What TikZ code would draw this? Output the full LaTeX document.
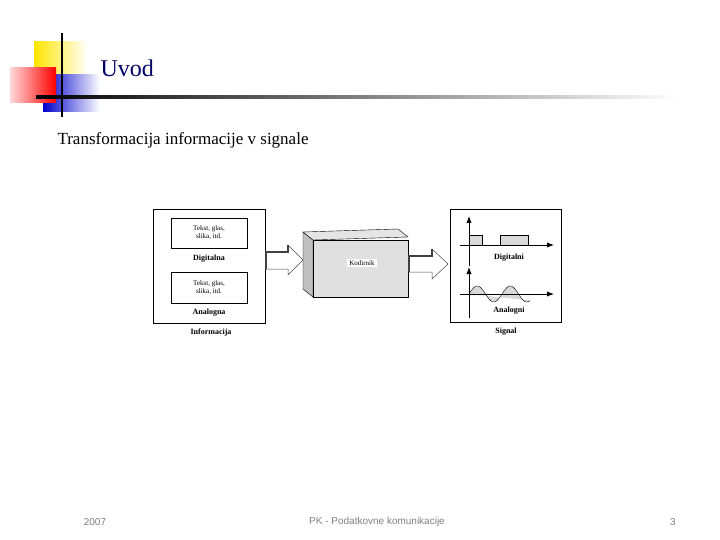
\documentclass[tikz,border=0pt]{standalone}
\usepackage{fontspec}
\setmainfont{Liberation Serif}
\setsansfont{Liberation Sans}
\usetikzlibrary{arrows.meta}
\begin{document}
\begin{tikzpicture}[x=1pt,y=-1pt,
  lbl/.style={font=\fontsize{8}{9}\selectfont\bfseries},
  small/.style={font=\fontsize{7}{8}\selectfont, align=center},
  inbox/.style={draw, line width=0.8pt},
  foot/.style={font=\sffamily\fontsize{10}{12}\selectfont, text=gray}]
\useasboundingbox (0,0) rectangle (720,540);
% logo
\shade[left color=yellow!80!orange, right color=white] (34,42) rectangle (88,88);
\shade[left color=blue!80!black, right color=white] (43,75) rectangle (100,112);
\shade[left color=red!15, right color=red] (10,68) rectangle (56,103);
\draw[line width=1.5pt] (62,33) -- (62,117);
\shade[left color=black, right color=white] (36,96) rectangle (680,98.5);
\node[anchor=west, text=blue!40!black, font=\fontsize{24}{28}\selectfont] (title) at (97,68) {Uvod};
\node[anchor=west, font=\fontsize{17}{20}\selectfont] (sub) at (54,140) {Transformacija informacije v signale};
% info box
\draw[line width=0.8pt] (153,209) rectangle (265,323);
\node[inbox, minimum width=76pt, minimum height=30pt, small] (b1) at (209,233) {Tekst, glas,\\ slika, itd.};
\node[lbl] (dig) at (209,259) {Digitalna};
\node[inbox, minimum width=76pt, minimum height=31pt, small] (b2) at (209,288) {Tekst, glas,\\ slika, itd.};
\node[lbl] (ana) at (209,313) {Analogna};
\node[lbl] (inf) at (211,333) {Informacija};
% arrow 1
\filldraw[fill=white, draw=black!70, line width=0.5pt] (266,252)--(288,252)--(288,245)--(303,260)--(288,275)--(288,269)--(266,269)--cycle;
\draw[line width=2pt, black!75] (266,269)--(266,252)--(288,252)--(288,245);
% kodirnik
\filldraw[fill=black!25, draw=black] (303,232)--(313,240)--(313,297)--(303,289)--cycle;
\filldraw[fill=black!10, draw=black] (303,232)--(398,229)--(408,237)--(313,240)--cycle;
\filldraw[fill=black!12, draw=black] (313,240) rectangle (408,297);
\node[small, fill=white, inner sep=2pt] (kod) at (362,263) {Kodirnik};
% arrow 2
\filldraw[fill=white, draw=black!70, line width=0.5pt] (409,256)--(432,256)--(432,249)--(448,264)--(432,279)--(432,272)--(409,272)--cycle;
\draw[line width=2pt, black!75] (409,272)--(409,256)--(432,256)--(432,249);
% signal box
\draw[line width=0.8pt] (450,209) rectangle (561,322);
\fill[black!15] (469,235) rectangle (482,245);
\fill[black!15] (500,235) rectangle (528,245);
\draw (469,245)--(469,235)--(482,235)--(482,245) (500,245)--(500,235)--(528,235)--(528,245);
\draw[-{Latex[length=7pt]}, line width=0.9pt] (469,266) -- (469,216);
\draw[-{Latex[length=7pt]}, line width=0.9pt] (460,245) -- (554,245);
\node[lbl] (dgl) at (509,258) {Digitalni};
\fill[black!15, domain=0:61, samples=60] plot ({469+\x},{294-8*sin(\x*10.909)}) -- cycle;
\draw[domain=0:61, samples=60] plot ({469+\x},{294-8*sin(\x*10.909)});
\draw[-{Latex[length=7pt]}, line width=0.9pt] (469,318) -- (469,267);
\draw[-{Latex[length=7pt]}, line width=0.9pt] (460,294) -- (554,294);
\node[lbl] (anl) at (509,311) {Analogni};
\node[lbl] (sig) at (506,332) {Signal};
% footer
\node[foot] (f1) at (95,522) {2007};
\node[foot] (f2) at (377,522) {PK - Podatkovne komunikacije};
\node[foot] (f3) at (673,522) {3};
\end{tikzpicture}
\end{document}
